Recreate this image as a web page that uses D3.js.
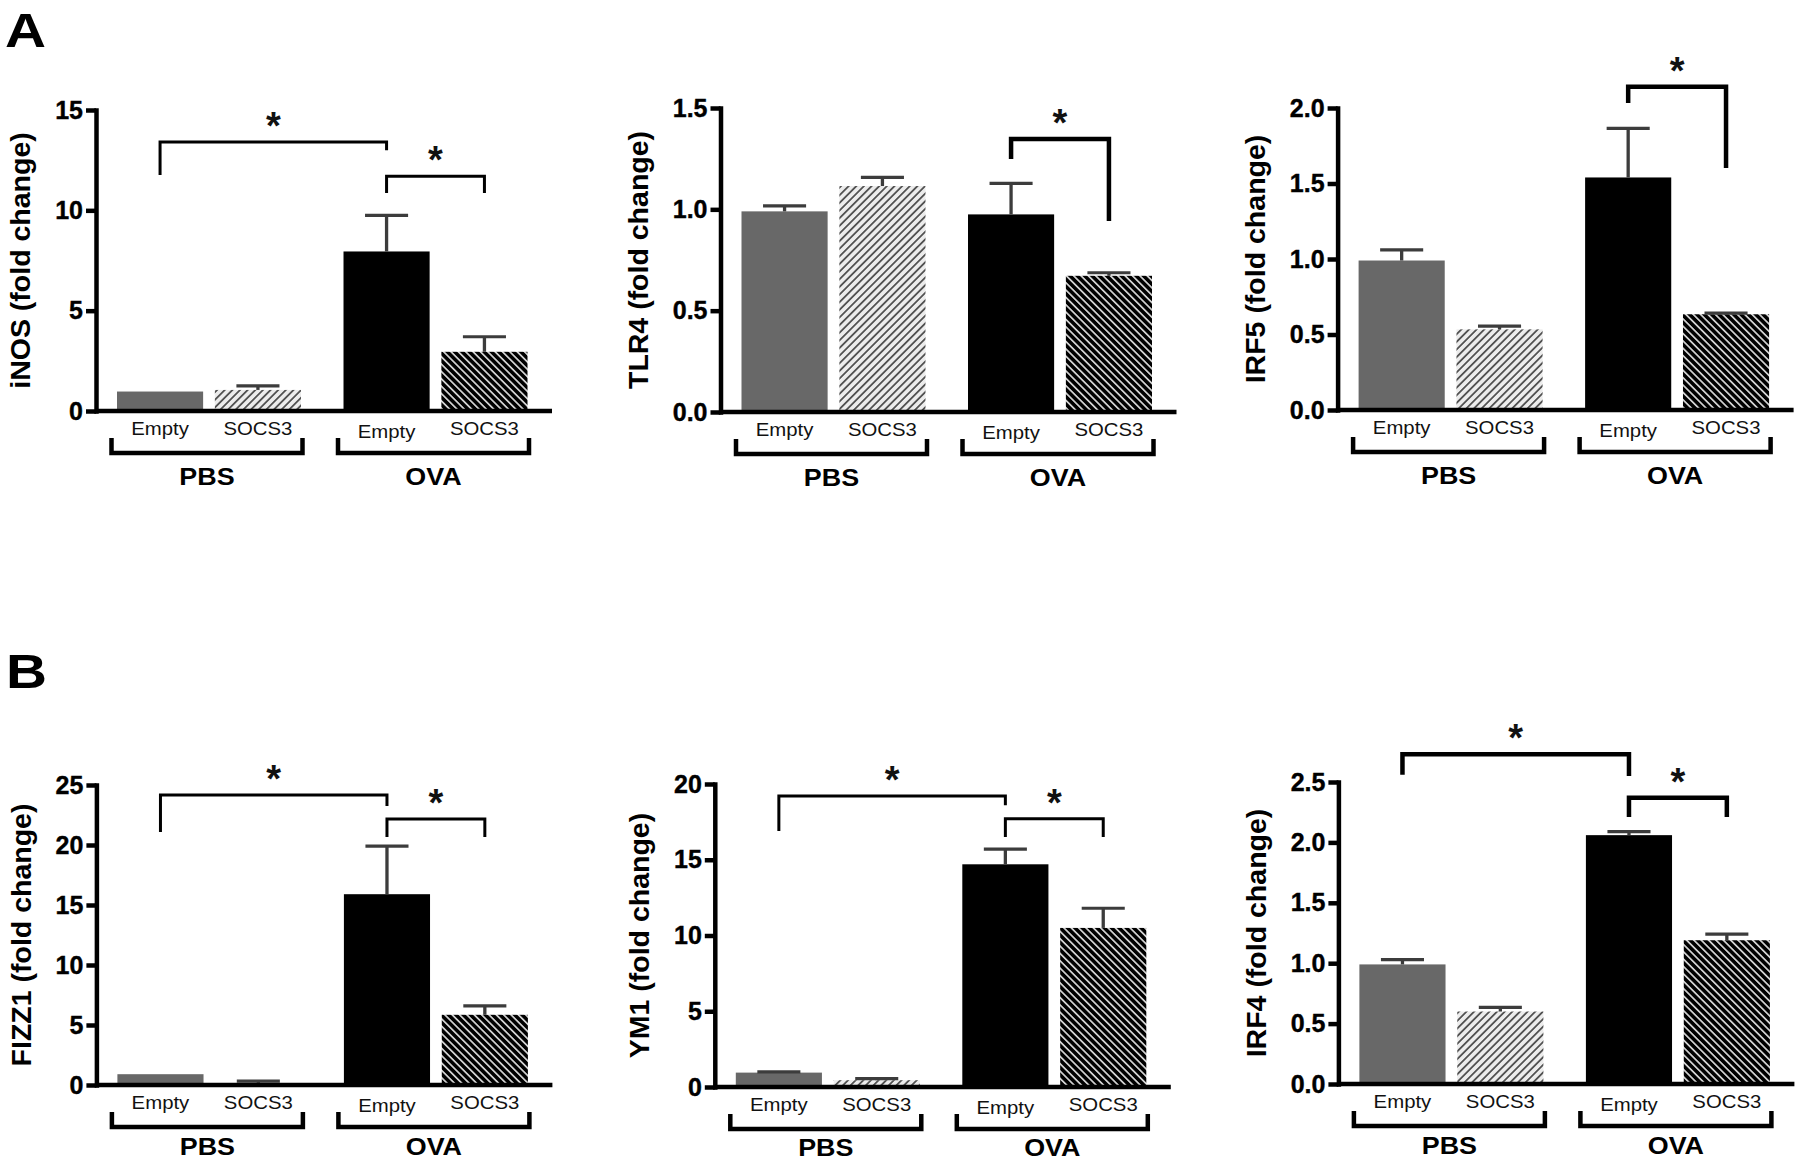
<!DOCTYPE html>
<html><head><meta charset="utf-8">
<script src="https://cdn.jsdelivr.net/npm/d3@7"></script>
<style>
body{margin:0;background:#fff}
svg{display:block}
</style>
</head><body>
<svg id="chart" width="1800" height="1163"></svg>
<script>
// ---------------- DATA ----------------
const treatments = ["PBS", "OVA"];
const conditions = ["Empty", "SOCS3"];
const genes = ["iNOS", "TLR4", "IRF5", "FIZZ1", "YM1", "IRF4"];
const panelLetters = ["A", "B"];

// order of values: PBS-Empty, PBS-SOCS3, OVA-Empty, OVA-SOCS3
const iNOS_mean  = [0.97, 1.05, 7.95, 2.95];
const iNOS_sem   = [0.0, 0.2, 1.8, 0.75];
const TLR4_mean  = [0.99, 1.115, 0.975, 0.672];
const TLR4_sem   = [0.027, 0.043, 0.153, 0.015];
const IRF5_mean  = [0.99, 0.534, 1.54, 0.634];
const IRF5_sem   = [0.07, 0.022, 0.325, 0.008];
const FIZZ1_mean = [0.9, 0.15, 15.9, 5.85];
const FIZZ1_sem  = [0.0, 0.18, 4.0, 0.75];
const YM1_mean   = [0.95, 0.45, 14.7, 10.5];
const YM1_sem    = [0.05, 0.1, 1.0, 1.3];
const IRF4_mean  = [0.99, 0.6, 2.06, 1.19];
const IRF4_sem   = [0.04, 0.035, 0.03, 0.05];

// tick labels
const iNOS_ticks  = [0, 5, 10, 15];
const TLR4_ticks  = [0, 0.5, 1.0, 1.5];
const IRF5_ticks  = [0, 0.5, 1.0, 1.5, 2.0];
const FIZZ1_ticks = [0, 5, 10, 15, 20, 25];
const YM1_ticks   = [0, 5, 10, 15, 20];
const IRF4_ticks  = [0, 0.5, 1.0, 1.5, 2.0, 2.5];

// significance brackets: bar indices, bracket level and end levels (data units)
const iNOS_sig  = [{from: 0, to: 2, level: 13.4, endA: 11.76, endB: 13.0}, {from: 2, to: 3, level: 11.7, endA: 10.86, endB: 10.86}];
const TLR4_sig  = [{from: 2, to: 3, level: 1.347, endA: 1.248, endB: 0.942}];
const IRF5_sig  = [{from: 2, to: 3, level: 2.14, endA: 2.033, endB: 1.603}];
const FIZZ1_sig = [{from: 0, to: 2, level: 24.17, endA: 21.08, endB: 23.25}, {from: 2, to: 3, level: 22.17, endA: 20.67, endB: 20.67}];
const YM1_sig   = [{from: 0, to: 2, level: 19.2, endA: 16.9, endB: 18.6}, {from: 2, to: 3, level: 17.7, endA: 16.5, endB: 16.5}];
const IRF4_sig  = [{from: 0, to: 2, level: 2.73, endA: 2.56, endB: 2.55}, {from: 2, to: 3, level: 2.37, endA: 2.21, endB: 2.21}];

// ---------------- LAYOUT / STYLE ----------------
const FONT = '"Liberation Sans", Arial, Helvetica, sans-serif';
const panels = [
  {gene: genes[0], mean: iNOS_mean,  sem: iNOS_sem,  ticks: iNOS_ticks,  sig: iNOS_sig,  axisX: 96,     top: 110, zero: 411,  fmt: "d",   bracketW: 3,   grpDy: 74},
  {gene: genes[1], mean: TLR4_mean,  sem: TLR4_sem,  ticks: TLR4_ticks,  sig: TLR4_sig,  axisX: 720.5,  top: 108, zero: 412,  fmt: ".1f", bracketW: 4.5, grpDy: 74},
  {gene: genes[2], mean: IRF5_mean,  sem: IRF5_sem,  ticks: IRF5_ticks,  sig: IRF5_sig,  axisX: 1337.6, top: 108, zero: 410,  fmt: ".1f", bracketW: 4.5, grpDy: 74},
  {gene: genes[3], mean: FIZZ1_mean, sem: FIZZ1_sem, ticks: FIZZ1_ticks, sig: FIZZ1_sig, axisX: 96.4,   top: 785, zero: 1085, fmt: "d",   bracketW: 3,   grpDy: 70},
  {gene: genes[4], mean: YM1_mean,   sem: YM1_sem,   ticks: YM1_ticks,   sig: YM1_sig,   axisX: 714.8,  top: 784, zero: 1087, fmt: "d",   bracketW: 3,   grpDy: 69},
  {gene: genes[5], mean: IRF4_mean,  sem: IRF4_sem,  ticks: IRF4_ticks,  sig: IRF4_sig,  axisX: 1338.4, top: 782, zero: 1084, fmt: ".1f", bracketW: 4.5, grpDy: 70}
];
const letterPos = [{x: 5, y: 47}, {x: 6, y: 688}];

const svg = d3.select("#chart");
svg.append("rect").attr("width", 1800).attr("height", 1163).attr("fill", "#fff");

// hatch patterns
const defs = svg.append("defs");
function hatch(id, bg, fg, angle, period, lw) {
  const p = defs.append("pattern").attr("id", id)
    .attr("patternUnits", "userSpaceOnUse")
    .attr("width", period).attr("height", period)
    .attr("patternTransform", `rotate(${angle})`);
  p.append("rect").attr("width", period).attr("height", period).attr("fill", bg);
  p.append("rect").attr("x", (period - lw) / 2).attr("y", 0).attr("width", lw).attr("height", period).attr("fill", fg);
}
hatch("hatchLight", "#ececec", "#333333", 45, 5.4, 1.5);
hatch("hatchDark", "#000000", "#ffffff", -45, 5.2, 1.4);

const fills = ["#686868", "url(#hatchLight)", "#000000", "url(#hatchDark)"];
const ERR = "#3c3c3c";

function stretch(sel, k) {
  sel.each(function () {
    const w = this.getComputedTextLength();
    d3.select(this).attr("textLength", w * k).attr("lengthAdjust", "spacingAndGlyphs");
  });
}

function drawPanel(p) {
  const g = svg.append("g");
  const y = d3.scaleLinear().domain([0, p.ticks[p.ticks.length - 1]]).range([p.zero, p.top]);
  const outer = d3.scaleBand().domain(treatments).range([p.axisX + 21, p.axisX + 431.5]).paddingInner(0.1877);
  const inner = d3.scaleBand().domain(conditions).range([0, outer.bandwidth()]).paddingInner(0.12);
  const bw = inner.bandwidth();

  const bars = p.mean.map((m, i) => ({i, t: treatments[Math.floor(i / 2)], c: conditions[i % 2], m, s: p.sem[i]}));
  const xOf = d => outer(d.t) + inner(d.c);
  const cx = d => xOf(d) + bw / 2;

  g.selectAll("rect.bar").data(bars).join("rect").attr("class", "bar")
    .attr("x", xOf).attr("y", d => y(d.m))
    .attr("width", bw).attr("height", d => y(0) - y(d.m))
    .attr("fill", d => fills[d.i]);

  const eb = bars.filter(d => d.s > 0);
  g.selectAll("line.ev").data(eb).join("line").attr("class", "ev")
    .attr("x1", cx).attr("x2", cx).attr("y1", d => y(d.m)).attr("y2", d => y(d.m + d.s))
    .attr("stroke", ERR).attr("stroke-width", 3.3);
  g.selectAll("line.ec").data(eb).join("line").attr("class", "ec")
    .attr("x1", d => cx(d) - bw / 4).attr("x2", d => cx(d) + bw / 4)
    .attr("y1", d => y(d.m + d.s)).attr("y2", d => y(d.m + d.s))
    .attr("stroke", ERR).attr("stroke-width", 3.2);

  // axes
  const ax = g.append("g").attr("transform", `translate(${p.axisX},0)`)
    .call(d3.axisLeft(y).tickValues(p.ticks).tickFormat(d3.format(p.fmt))
      .tickSize(10).tickSizeOuter(0).tickPadding(3));
  ax.attr("font-family", FONT).attr("font-size", 25).attr("font-weight", "bold");
  ax.select(".domain").attr("stroke", "#000").attr("stroke-width", 4.5).attr("stroke-linecap", "square");
  ax.selectAll(".tick line").attr("stroke", "#000").attr("stroke-width", 4.5);
  ax.selectAll(".tick text").attr("fill", "#000").attr("stroke", "#000").attr("stroke-width", 0.4);

  g.append("line").attr("x1", p.axisX).attr("x2", p.axisX + 456)
    .attr("y1", y(0)).attr("y2", y(0)).attr("stroke", "#000").attr("stroke-width", 4.5);

  // y title
  const bb = ax.node().getBBox();
  const titleX = p.axisX + bb.x - 25;
  g.append("text")
    .attr("transform", `translate(${titleX},${(p.top + p.zero) / 2}) rotate(-90)`)
    .attr("text-anchor", "middle").attr("font-family", FONT).attr("font-weight", "bold")
    .attr("font-size", 28.5).attr("fill", "#000")
    .text(`${p.gene} (fold change)`);

  // category labels
  const cl = g.selectAll("text.cat").data(bars).join("text").attr("class", "cat")
    .attr("x", cx).attr("y", d => y(0) + 24 + (d.i === 2 ? 3 : 0))
    .attr("text-anchor", "middle").attr("font-family", FONT).attr("font-size", 18).attr("fill", "#111")
    .text(d => d.c);
  stretch(cl, 1.13);

  // group brackets
  g.selectAll("path.grp").data(treatments).join("path").attr("class", "grp")
    .attr("d", t => {
      const x0 = outer(t) - 5.5, x1 = outer(t) + outer.bandwidth() + 1.5;
      return `M${x0},${y(0) + 27}V${y(0) + 42}H${x1}V${y(0) + 27}`;
    })
    .attr("fill", "none").attr("stroke", "#000").attr("stroke-width", 4.5);
  const gl = g.selectAll("text.grp").data(treatments).join("text").attr("class", "grp")
    .attr("x", t => outer(t) - 2 + outer.bandwidth() / 2).attr("y", y(0) + p.grpDy)
    .attr("text-anchor", "middle").attr("font-family", FONT).attr("font-weight", "bold")
    .attr("font-size", 24).attr("fill", "#000").text(t => t);
  stretch(gl, 1.12);

  // significance brackets
  p.sig.forEach(s => {
    const xa = cx(bars[s.from]), xb = cx(bars[s.to]);
    g.append("path")
      .attr("d", `M${xa},${y(s.endA)}V${y(s.level)}H${xb}V${y(s.endB)}`)
      .attr("fill", "none").attr("stroke", "#000").attr("stroke-width", p.bracketW)
      .attr("stroke-linejoin", "miter");
    g.append("text").attr("x", (xa + xb) / 2).attr("y", y(s.level) - 3)
      .attr("text-anchor", "middle").attr("font-family", FONT).attr("font-weight", "bold")
      .attr("font-size", 38).attr("fill", "#111").text("*");
  });
}

panels.forEach(drawPanel);

// panel letters
const lt = svg.selectAll("text.letter").data(panelLetters).join("text").attr("class", "letter")
  .attr("x", (d, i) => letterPos[i].x).attr("y", (d, i) => letterPos[i].y)
  .attr("font-family", FONT).attr("font-weight", "bold").attr("font-size", 48).attr("fill", "#000")
  .text(d => d);
lt.attr("textLength", 41).attr("lengthAdjust", "spacingAndGlyphs");
</script>
</body></html>
